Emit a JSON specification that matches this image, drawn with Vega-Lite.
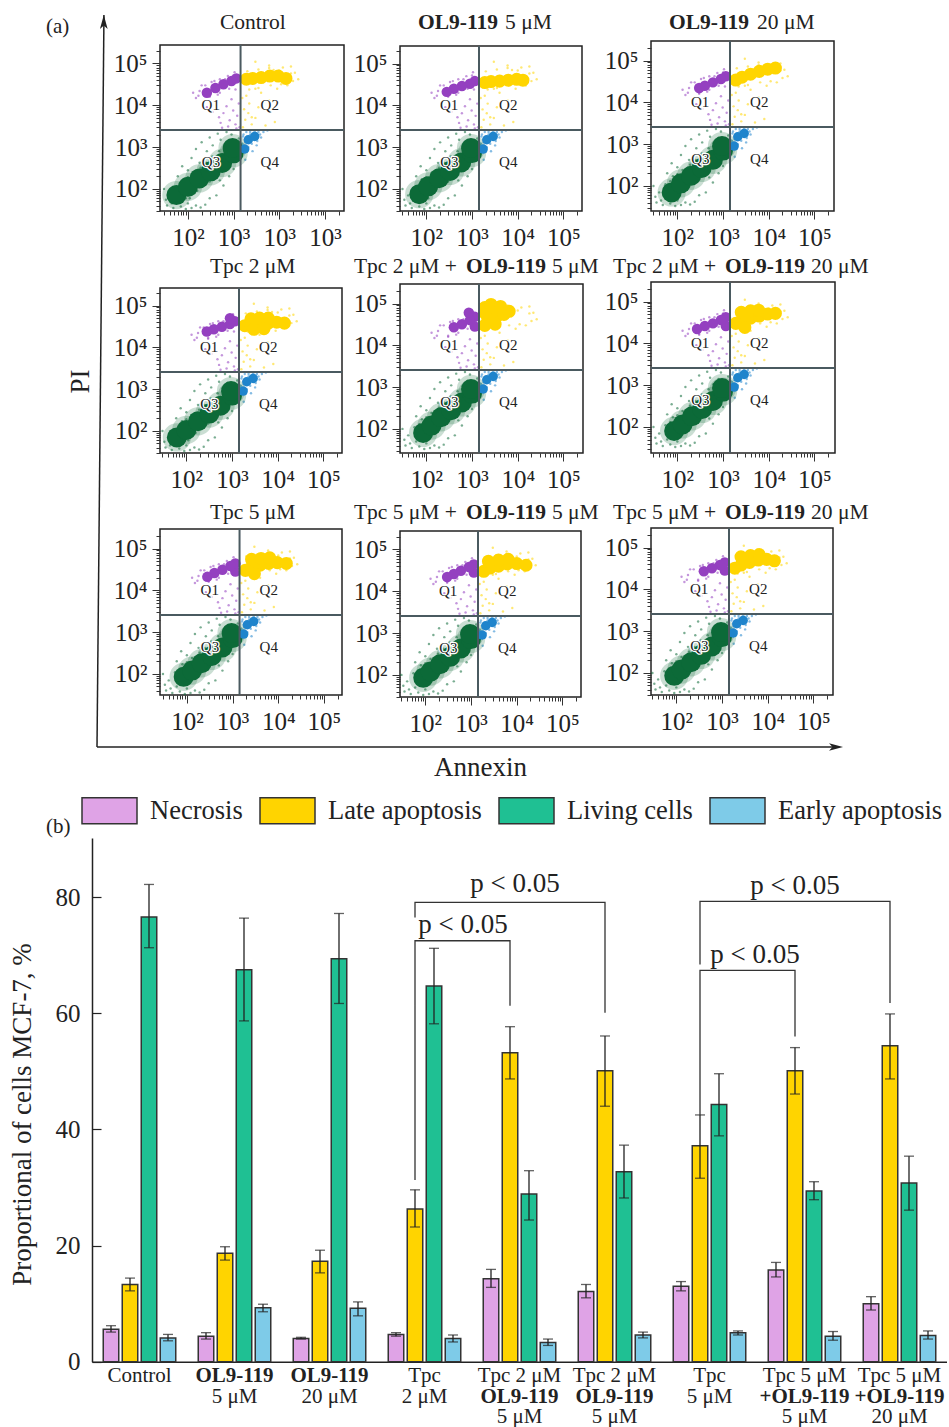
{"$schema":"https://vega.github.io/schema/vega-lite/v6.json","padding":{"left":8,"top":11,"right":0,"bottom":0},"bounds":"flush","spacing":0,"background":"#ffffff","resolve":{"scale":{"color":"independent","size":"independent"}},
"config":{"font":"Liberation Serif","view":{"stroke":null},"range":{"category":["#9440c0","#ffd500","#0c6a38","#1f84cc"]},"axis":{"grid":false,"domain":false,"labelFontSize":25,"labelColor":"#222","tickColor":"#333","labelOverlap":false,"titleFontWeight":"normal","titleColor":"#222"}},
"datasets":{
"sparse":[{"q":"Q1","x":150,"y":15000},{"q":"Q1","x":180,"y":22000},{"q":"Q1","x":220,"y":12000},{"q":"Q1","x":260,"y":9000},{"q":"Q1","x":300,"y":16000},{"q":"Q1","x":350,"y":7000},{"q":"Q1","x":420,"y":11000},{"q":"Q1","x":480,"y":5200},{"q":"Q1","x":520,"y":3800},{"q":"Q1","x":600,"y":6500},{"q":"Q1","x":700,"y":9500},{"q":"Q1","x":760,"y":3100},{"q":"Q1","x":820,"y":4400},{"q":"Q1","x":900,"y":14000},{"q":"Q1","x":980,"y":7500},{"q":"Q1","x":1100,"y":3500},{"q":"Q1","x":1200,"y":5600},{"q":"Q1","x":1300,"y":11000},{"q":"Q1","x":1350,"y":3000},{"q":"Q1","x":450,"y":18000},{"q":"Q1","x":650,"y":42000},{"q":"Q1","x":380,"y":38000},{"q":"Q1","x":1000,"y":52000},{"q":"Q1","x":240,"y":30000},{"q":"Q1","x":130,"y":20000},{"q":"Q1","x":1150,"y":2800},{"q":"Q1","x":560,"y":2900},{"q":"Q1","x":200,"y":30000},{"q":"Q1","x":330,"y":36000},{"q":"Q1","x":500,"y":42000},{"q":"Q1","x":750,"y":50000},{"q":"Q1","x":300,"y":17000},{"q":"Q1","x":500,"y":20000},{"q":"Q1","x":800,"y":25000},{"q":"Q1","x":1100,"y":24000},{"q":"Q1","x":170,"y":17000},{"q":"Q1","x":1050,"y":62000},
{"q":"Q2","x":1600,"y":3000},{"q":"Q2","x":1800,"y":4500},{"q":"Q2","x":2100,"y":6500},{"q":"Q2","x":2500,"y":3500},{"q":"Q2","x":3000,"y":5000},{"q":"Q2","x":1700,"y":8000},{"q":"Q2","x":2200,"y":11000},{"q":"Q2","x":3500,"y":9000},{"q":"Q2","x":1550,"y":15000},{"q":"Q2","x":4000,"y":20000},{"q":"Q2","x":6000,"y":13000},{"q":"Q2","x":9000,"y":25000},{"q":"Q2","x":15000,"y":30000},{"q":"Q2","x":22000,"y":60000},{"q":"Q2","x":18000,"y":85000},{"q":"Q2","x":6000,"y":90000},{"q":"Q2","x":3000,"y":110000},{"q":"Q2","x":12000,"y":80000},{"q":"Q2","x":2500,"y":5200},{"q":"Q2","x":5000,"y":3300},{"q":"Q2","x":8000,"y":4000},{"q":"Q2","x":1900,"y":17000},{"q":"Q2","x":3000,"y":25000},{"q":"Q2","x":7500,"y":70000},{"q":"Q2","x":26000,"y":42000},{"q":"Q2","x":2000,"y":65000},{"q":"Q2","x":3500,"y":72000},{"q":"Q2","x":6000,"y":78000},{"q":"Q2","x":10000,"y":68000},{"q":"Q2","x":18000,"y":58000},{"q":"Q2","x":20000,"y":38000},{"q":"Q2","x":11000,"y":32000},{"q":"Q2","x":6500,"y":30000},{"q":"Q2","x":3500,"y":26000},{"q":"Q2","x":2200,"y":24000},
{"q":"Q3","x":35,"y":40},{"q":"Q3","x":40,"y":70},{"q":"Q3","x":48,"y":35},{"q":"Q3","x":55,"y":110},{"q":"Q3","x":60,"y":50},{"q":"Q3","x":70,"y":38},{"q":"Q3","x":80,"y":170},{"q":"Q3","x":90,"y":33},{"q":"Q3","x":100,"y":45},{"q":"Q3","x":120,"y":35},{"q":"Q3","x":150,"y":40},{"q":"Q3","x":190,"y":36},{"q":"Q3","x":240,"y":42},{"q":"Q3","x":300,"y":60},{"q":"Q3","x":420,"y":70},{"q":"Q3","x":600,"y":120},{"q":"Q3","x":60,"y":200},{"q":"Q3","x":75,"y":350},{"q":"Q3","x":100,"y":280},{"q":"Q3","x":120,"y":550},{"q":"Q3","x":150,"y":900},{"q":"Q3","x":180,"y":420},{"q":"Q3","x":200,"y":1300},{"q":"Q3","x":260,"y":800},{"q":"Q3","x":300,"y":1700},{"q":"Q3","x":350,"y":1100},{"q":"Q3","x":450,"y":2100},{"q":"Q3","x":520,"y":1500},{"q":"Q3","x":700,"y":2300},{"q":"Q3","x":900,"y":2000},{"q":"Q3","x":800,"y":200},{"q":"Q3","x":1000,"y":300},{"q":"Q3","x":1200,"y":600},{"q":"Q3","x":500,"y":160},{"q":"Q3","x":1300,"y":1600},{"q":"Q3","x":30,"y":100},{"q":"Q3","x":33,"y":55},{"q":"Q3","x":44,"y":45},{"q":"Q3","x":160,"y":90},{"q":"Q3","x":110,"y":60},{"q":"Q3","x":70,"y":130},{"q":"Q3","x":100,"y":190},{"q":"Q3","x":130,"y":240},{"q":"Q3","x":190,"y":320},{"q":"Q3","x":250,"y":420},{"q":"Q3","x":340,"y":600},{"q":"Q3","x":480,"y":800},{"q":"Q3","x":620,"y":1050},{"q":"Q3","x":800,"y":1400},{"q":"Q3","x":1000,"y":1300},{"q":"Q3","x":90,"y":60},{"q":"Q3","x":140,"y":80},{"q":"Q3","x":220,"y":120},{"q":"Q3","x":300,"y":150},{"q":"Q3","x":420,"y":220},{"q":"Q3","x":600,"y":280},{"q":"Q3","x":800,"y":380},{"q":"Q3","x":1050,"y":500},
{"q":"Q4","x":1500,"y":700},{"q":"Q4","x":1600,"y":1800},{"q":"Q4","x":1800,"y":500},{"q":"Q4","x":1900,"y":2300},{"q":"Q4","x":2100,"y":1000},{"q":"Q4","x":2300,"y":2000},{"q":"Q4","x":2600,"y":800},{"q":"Q4","x":2900,"y":2400},{"q":"Q4","x":3300,"y":1400},{"q":"Q4","x":3800,"y":2000},{"q":"Q4","x":4500,"y":2300},{"q":"Q4","x":5500,"y":2500},{"q":"Q4","x":2000,"y":1500},{"q":"Q4","x":1550,"y":1200},{"q":"Q4","x":2800,"y":1600},{"q":"Q4","x":1650,"y":2000},{"q":"Q4","x":2000,"y":800},{"q":"Q4","x":2500,"y":1200},{"q":"Q4","x":3200,"y":1100},{"q":"Q4","x":3500,"y":2300},{"q":"Q4","x":4000,"y":1700},{"q":"Q4","x":2300,"y":2300},{"q":"Q4","x":1800,"y":1300}],
"core":[
{"p":1,"q":"Q1","x":1150,"y":44000},{"p":1,"q":"Q1","x":900,"y":38000},{"p":1,"q":"Q1","x":600,"y":32000},{"p":1,"q":"Q1","x":400,"y":26000},{"p":1,"q":"Q1","x":260,"y":20000},
{"p":1,"q":"Q2","x":1900,"y":42000},{"p":1,"q":"Q2","x":2600,"y":44000},{"p":1,"q":"Q2","x":4000,"y":46000},{"p":1,"q":"Q2","x":6200,"y":50000},{"p":1,"q":"Q2","x":9500,"y":50000},{"p":1,"q":"Q2","x":14000,"y":44000},
{"p":1,"q":"Q3","x":56,"y":71},{"p":1,"q":"Q3","x":100,"y":112},{"p":1,"q":"Q3","x":178,"y":178},{"p":1,"q":"Q3","x":316,"y":263},{"p":1,"q":"Q3","x":562,"y":417},{"p":1,"q":"Q3","x":1000,"y":708},{"p":1,"q":"Q3","x":950,"y":950},
{"p":1,"q":"Q4","x":1750,"y":900},{"p":1,"q":"Q4","x":2100,"y":1500},{"p":1,"q":"Q4","x":2900,"y":1800},
{"p":2,"q":"Q1","x":1150,"y":38000},{"p":2,"q":"Q1","x":900,"y":33000},{"p":2,"q":"Q1","x":600,"y":29000},{"p":2,"q":"Q1","x":400,"y":25000},{"p":2,"q":"Q1","x":280,"y":21000},
{"p":2,"q":"Q2","x":1900,"y":35000},{"p":2,"q":"Q2","x":2600,"y":37000},{"p":2,"q":"Q2","x":4000,"y":38000},{"p":2,"q":"Q2","x":6200,"y":40000},{"p":2,"q":"Q2","x":9500,"y":42000},{"p":2,"q":"Q2","x":13000,"y":40000},
{"p":2,"q":"Q3","x":70,"y":75},{"p":2,"q":"Q3","x":110,"y":115},{"p":2,"q":"Q3","x":190,"y":180},{"p":2,"q":"Q3","x":330,"y":270},{"p":2,"q":"Q3","x":580,"y":430},{"p":2,"q":"Q3","x":1000,"y":720},{"p":2,"q":"Q3","x":950,"y":950},
{"p":2,"q":"Q4","x":1750,"y":900},{"p":2,"q":"Q4","x":2100,"y":1500},{"p":2,"q":"Q4","x":2900,"y":1800},
{"p":3,"q":"Q1","x":1150,"y":42000},{"p":3,"q":"Q1","x":900,"y":36000},{"p":3,"q":"Q1","x":600,"y":30000},{"p":3,"q":"Q1","x":400,"y":25000},{"p":3,"q":"Q1","x":300,"y":22000},
{"p":3,"q":"Q2","x":1900,"y":34000},{"p":3,"q":"Q2","x":2600,"y":40000},{"p":3,"q":"Q2","x":4000,"y":47000},{"p":3,"q":"Q2","x":6200,"y":55000},{"p":3,"q":"Q2","x":9500,"y":62000},{"p":3,"q":"Q2","x":14000,"y":66000},
{"p":3,"q":"Q3","x":75,"y":70},{"p":3,"q":"Q3","x":120,"y":115},{"p":3,"q":"Q3","x":200,"y":175},{"p":3,"q":"Q3","x":340,"y":270},{"p":3,"q":"Q3","x":600,"y":420},{"p":3,"q":"Q3","x":1000,"y":700},{"p":3,"q":"Q3","x":950,"y":900},
{"p":3,"q":"Q4","x":1750,"y":900},{"p":3,"q":"Q4","x":2100,"y":1500},{"p":3,"q":"Q4","x":2900,"y":1800},
{"p":4,"q":"Q1","x":1150,"y":42000},{"p":4,"q":"Q1","x":900,"y":36000},{"p":4,"q":"Q1","x":600,"y":31000},{"p":4,"q":"Q1","x":400,"y":27000},{"p":4,"q":"Q1","x":280,"y":24000},{"p":4,"q":"Q1","x":900,"y":50000},
{"p":4,"q":"Q2","x":1900,"y":33000},{"p":4,"q":"Q2","x":2600,"y":36000},{"p":4,"q":"Q2","x":4000,"y":37000},{"p":4,"q":"Q2","x":6200,"y":38000},{"p":4,"q":"Q2","x":9500,"y":40000},{"p":4,"q":"Q2","x":14000,"y":38000},{"p":4,"q":"Q2","x":2600,"y":48000},{"p":4,"q":"Q2","x":4000,"y":50000},{"p":4,"q":"Q2","x":6200,"y":50000},{"p":4,"q":"Q2","x":3000,"y":27000},{"p":4,"q":"Q2","x":5000,"y":28000},
{"p":4,"q":"Q3","x":62,"y":70},{"p":4,"q":"Q3","x":100,"y":105},{"p":4,"q":"Q3","x":180,"y":170},{"p":4,"q":"Q3","x":320,"y":260},{"p":4,"q":"Q3","x":560,"y":400},{"p":4,"q":"Q3","x":1000,"y":700},{"p":4,"q":"Q3","x":950,"y":900},
{"p":4,"q":"Q4","x":1750,"y":900},{"p":4,"q":"Q4","x":2100,"y":1500},{"p":4,"q":"Q4","x":2900,"y":1800},
{"p":5,"q":"Q1","x":1150,"y":48000},{"p":5,"q":"Q1","x":1150,"y":28000},{"p":5,"q":"Q1","x":900,"y":40000},{"p":5,"q":"Q1","x":600,"y":32000},{"p":5,"q":"Q1","x":400,"y":27000},{"p":5,"q":"Q1","x":850,"y":60000},
{"p":5,"q":"Q2","x":1900,"y":30000},{"p":5,"q":"Q2","x":2200,"y":45000},{"p":5,"q":"Q2","x":2800,"y":70000},{"p":5,"q":"Q2","x":1900,"y":60000},{"p":5,"q":"Q2","x":3500,"y":50000},{"p":5,"q":"Q2","x":5000,"y":55000},{"p":5,"q":"Q2","x":6500,"y":65000},{"p":5,"q":"Q2","x":3200,"y":32000},{"p":5,"q":"Q2","x":1900,"y":80000},{"p":5,"q":"Q2","x":2600,"y":95000},{"p":5,"q":"Q2","x":4200,"y":85000},
{"p":5,"q":"Q3","x":85,"y":80},{"p":5,"q":"Q3","x":130,"y":120},{"p":5,"q":"Q3","x":210,"y":190},{"p":5,"q":"Q3","x":350,"y":280},{"p":5,"q":"Q3","x":600,"y":430},{"p":5,"q":"Q3","x":1000,"y":700},{"p":5,"q":"Q3","x":950,"y":900},
{"p":5,"q":"Q4","x":1750,"y":900},{"p":5,"q":"Q4","x":2100,"y":1500},{"p":5,"q":"Q4","x":2900,"y":1800},
{"p":6,"q":"Q1","x":1150,"y":42000},{"p":6,"q":"Q1","x":1150,"y":26000},{"p":6,"q":"Q1","x":900,"y":36000},{"p":6,"q":"Q1","x":600,"y":30000},{"p":6,"q":"Q1","x":400,"y":26000},{"p":6,"q":"Q1","x":270,"y":22000},
{"p":6,"q":"Q2","x":1900,"y":30000},{"p":6,"q":"Q2","x":2600,"y":36000},{"p":6,"q":"Q2","x":4000,"y":40000},{"p":6,"q":"Q2","x":6200,"y":45000},{"p":6,"q":"Q2","x":9500,"y":50000},{"p":6,"q":"Q2","x":14000,"y":52000},{"p":6,"q":"Q2","x":2500,"y":55000},{"p":6,"q":"Q2","x":4000,"y":60000},{"p":6,"q":"Q2","x":6000,"y":62000},{"p":6,"q":"Q2","x":3000,"y":24000},
{"p":6,"q":"Q3","x":85,"y":80},{"p":6,"q":"Q3","x":130,"y":115},{"p":6,"q":"Q3","x":210,"y":180},{"p":6,"q":"Q3","x":350,"y":270},{"p":6,"q":"Q3","x":600,"y":420},{"p":6,"q":"Q3","x":1000,"y":700},{"p":6,"q":"Q3","x":950,"y":850},
{"p":6,"q":"Q4","x":1750,"y":900},{"p":6,"q":"Q4","x":2100,"y":1500},{"p":6,"q":"Q4","x":2900,"y":1800},
{"p":7,"q":"Q1","x":1150,"y":44000},{"p":7,"q":"Q1","x":1150,"y":28000},{"p":7,"q":"Q1","x":900,"y":38000},{"p":7,"q":"Q1","x":600,"y":31000},{"p":7,"q":"Q1","x":400,"y":26000},{"p":7,"q":"Q1","x":280,"y":21000},
{"p":7,"q":"Q2","x":1900,"y":30000},{"p":7,"q":"Q2","x":2600,"y":36000},{"p":7,"q":"Q2","x":4000,"y":40000},{"p":7,"q":"Q2","x":6200,"y":44000},{"p":7,"q":"Q2","x":9500,"y":46000},{"p":7,"q":"Q2","x":15000,"y":44000},{"p":7,"q":"Q2","x":2600,"y":55000},{"p":7,"q":"Q2","x":4200,"y":58000},{"p":7,"q":"Q2","x":6500,"y":60000},{"p":7,"q":"Q2","x":3000,"y":25000},
{"p":7,"q":"Q3","x":85,"y":85},{"p":7,"q":"Q3","x":130,"y":120},{"p":7,"q":"Q3","x":210,"y":180},{"p":7,"q":"Q3","x":350,"y":270},{"p":7,"q":"Q3","x":600,"y":430},{"p":7,"q":"Q3","x":1000,"y":720},{"p":7,"q":"Q3","x":950,"y":950},
{"p":7,"q":"Q4","x":1750,"y":900},{"p":7,"q":"Q4","x":2100,"y":1500},{"p":7,"q":"Q4","x":2900,"y":1800},
{"p":8,"q":"Q1","x":1150,"y":44000},{"p":8,"q":"Q1","x":1150,"y":28000},{"p":8,"q":"Q1","x":900,"y":38000},{"p":8,"q":"Q1","x":600,"y":31000},{"p":8,"q":"Q1","x":420,"y":26000},{"p":8,"q":"Q1","x":300,"y":22000},
{"p":8,"q":"Q2","x":1900,"y":30000},{"p":8,"q":"Q2","x":2600,"y":36000},{"p":8,"q":"Q2","x":4000,"y":40000},{"p":8,"q":"Q2","x":6200,"y":45000},{"p":8,"q":"Q2","x":10000,"y":46000},{"p":8,"q":"Q2","x":16000,"y":42000},{"p":8,"q":"Q2","x":2400,"y":52000},{"p":8,"q":"Q2","x":4000,"y":56000},{"p":8,"q":"Q2","x":6500,"y":58000},
{"p":8,"q":"Q3","x":90,"y":85},{"p":8,"q":"Q3","x":130,"y":120},{"p":8,"q":"Q3","x":210,"y":180},{"p":8,"q":"Q3","x":350,"y":270},{"p":8,"q":"Q3","x":600,"y":430},{"p":8,"q":"Q3","x":1000,"y":720},{"p":8,"q":"Q3","x":950,"y":950},
{"p":8,"q":"Q4","x":1750,"y":900},{"p":8,"q":"Q4","x":2100,"y":1500},{"p":8,"q":"Q4","x":2900,"y":1800},
{"p":9,"q":"Q1","x":1150,"y":44000},{"p":9,"q":"Q1","x":1150,"y":28000},{"p":9,"q":"Q1","x":900,"y":38000},{"p":9,"q":"Q1","x":600,"y":32000},{"p":9,"q":"Q1","x":400,"y":27000},
{"p":9,"q":"Q2","x":1900,"y":32000},{"p":9,"q":"Q2","x":2600,"y":38000},{"p":9,"q":"Q2","x":4000,"y":44000},{"p":9,"q":"Q2","x":6200,"y":50000},{"p":9,"q":"Q2","x":9500,"y":52000},{"p":9,"q":"Q2","x":14000,"y":48000},{"p":9,"q":"Q2","x":2600,"y":60000},{"p":9,"q":"Q2","x":4200,"y":64000},{"p":9,"q":"Q2","x":6500,"y":68000},
{"p":9,"q":"Q3","x":90,"y":85},{"p":9,"q":"Q3","x":130,"y":120},{"p":9,"q":"Q3","x":210,"y":180},{"p":9,"q":"Q3","x":350,"y":270},{"p":9,"q":"Q3","x":600,"y":430},{"p":9,"q":"Q3","x":1000,"y":720},{"p":9,"q":"Q3","x":950,"y":950},
{"p":9,"q":"Q4","x":1750,"y":900},{"p":9,"q":"Q4","x":2100,"y":1500},{"p":9,"q":"Q4","x":2900,"y":1800}],
"qlab":[{"q":"Q1","x":316,"y":10000},{"q":"Q2","x":6200,"y":10000},{"q":"Q3","x":320,"y":447},{"q":"Q4","x":6200,"y":447}],
"gx":[{"x":1420}],"gy":[{"y":2570}],
"titles":[
{"p":1,"t":"Control","x":0.25,"y":0.733,"bold":false},
{"p":2,"t":"OL9-119","x":0.075,"y":0.742,"bold":true},{"p":2,"t":"5 μM","x":0.4375,"y":0.742,"bold":false},
{"p":3,"t":"OL9-119","x":0.075,"y":0.692,"bold":true},{"p":3,"t":"20 μM","x":0.442,"y":0.692,"bold":false},
{"p":4,"t":"Tpc 2 μM","x":0.208,"y":0.273,"bold":false},
{"p":5,"t":"Tpc 2 μM +","x":-0.192,"y":0.233,"bold":false},{"p":5,"t":"OL9-119","x":0.275,"y":0.233,"bold":true},{"p":5,"t":"5 μM","x":0.633,"y":0.233,"bold":false},
{"p":6,"t":"Tpc 2 μM +","x":-0.158,"y":0.211,"bold":false},{"p":6,"t":"OL9-119","x":0.308,"y":0.211,"bold":true},{"p":6,"t":"20 μM","x":0.667,"y":0.211,"bold":false},
{"p":7,"t":"Tpc 5 μM","x":0.208,"y":0.21,"bold":false},
{"p":8,"t":"Tpc 5 μM +","x":-0.192,"y":0.23,"bold":false},{"p":8,"t":"OL9-119","x":0.275,"y":0.23,"bold":true},{"p":8,"t":"5 μM","x":0.633,"y":0.23,"bold":false},
{"p":9,"t":"Tpc 5 μM +","x":-0.158,"y":0.2,"bold":false},{"p":9,"t":"OL9-119","x":0.308,"y":0.2,"bold":true},{"p":9,"t":"20 μM","x":0.667,"y":0.2,"bold":false}],
"bars":[
{"g":"Control","s":"Necrosis","v":5.6,"lo":5.1,"hi":6.2},{"g":"Control","s":"Late apoptosis","v":13.3,"lo":12.2,"hi":14.4},{"g":"Control","s":"Living cells","v":76.6,"lo":71.3,"hi":82.2},{"g":"Control","s":"Early apoptosis","v":4.1,"lo":3.6,"hi":4.7},
{"g":"OL5","s":"Necrosis","v":4.4,"lo":3.9,"hi":5.0},{"g":"OL5","s":"Late apoptosis","v":18.7,"lo":17.5,"hi":19.8},{"g":"OL5","s":"Living cells","v":67.5,"lo":58.7,"hi":76.4},{"g":"OL5","s":"Early apoptosis","v":9.3,"lo":8.6,"hi":9.9},
{"g":"OL20","s":"Necrosis","v":4.0,"lo":3.9,"hi":4.2},{"g":"OL20","s":"Late apoptosis","v":17.3,"lo":15.3,"hi":19.2},{"g":"OL20","s":"Living cells","v":69.4,"lo":61.7,"hi":77.2},{"g":"OL20","s":"Early apoptosis","v":9.2,"lo":7.9,"hi":10.3},
{"g":"Tpc2","s":"Necrosis","v":4.7,"lo":4.4,"hi":5.0},{"g":"Tpc2","s":"Late apoptosis","v":26.3,"lo":23.2,"hi":29.6},{"g":"Tpc2","s":"Living cells","v":64.7,"lo":58.2,"hi":71.2},{"g":"Tpc2","s":"Early apoptosis","v":4.0,"lo":3.4,"hi":4.6},
{"g":"Tpc2 OL a","s":"Necrosis","v":14.3,"lo":12.8,"hi":15.9},{"g":"Tpc2 OL a","s":"Late apoptosis","v":53.2,"lo":48.7,"hi":57.7},{"g":"Tpc2 OL a","s":"Living cells","v":28.9,"lo":24.4,"hi":32.9},{"g":"Tpc2 OL a","s":"Early apoptosis","v":3.3,"lo":2.8,"hi":3.9},
{"g":"Tpc2 OL b","s":"Necrosis","v":12.1,"lo":11.0,"hi":13.3},{"g":"Tpc2 OL b","s":"Late apoptosis","v":50.1,"lo":44.0,"hi":56.1},{"g":"Tpc2 OL b","s":"Living cells","v":32.7,"lo":28.2,"hi":37.3},{"g":"Tpc2 OL b","s":"Early apoptosis","v":4.6,"lo":4.1,"hi":5.1},
{"g":"Tpc5","s":"Necrosis","v":13.0,"lo":12.2,"hi":13.8},{"g":"Tpc5","s":"Late apoptosis","v":37.2,"lo":31.6,"hi":42.5},{"g":"Tpc5","s":"Living cells","v":44.3,"lo":38.9,"hi":49.6},{"g":"Tpc5","s":"Early apoptosis","v":5.0,"lo":4.6,"hi":5.3},
{"g":"Tpc5 OL5","s":"Necrosis","v":15.8,"lo":14.6,"hi":17.1},{"g":"Tpc5 OL5","s":"Late apoptosis","v":50.1,"lo":46.1,"hi":54.1},{"g":"Tpc5 OL5","s":"Living cells","v":29.4,"lo":27.9,"hi":31.0},{"g":"Tpc5 OL5","s":"Early apoptosis","v":4.4,"lo":3.7,"hi":5.2},
{"g":"Tpc5 OL20","s":"Necrosis","v":10.0,"lo":8.9,"hi":11.2},{"g":"Tpc5 OL20","s":"Late apoptosis","v":54.4,"lo":48.7,"hi":59.9},{"g":"Tpc5 OL20","s":"Living cells","v":30.8,"lo":26.1,"hi":35.4},{"g":"Tpc5 OL20","s":"Early apoptosis","v":4.5,"lo":3.9,"hi":5.3}],
"brk":[
{"b":"o1","o":1,"g":"Tpc2","s":"Late apoptosis","y":76.5},{"b":"o1","o":2,"g":"Tpc2","s":"Late apoptosis","y":79.1},{"b":"o1","o":3,"g":"Tpc2 OL b","s":"Late apoptosis","y":79.1},{"b":"o1","o":4,"g":"Tpc2 OL b","s":"Late apoptosis","y":60.1},
{"b":"i1","o":1,"g":"Tpc2","s":"Late apoptosis","y":31.3},{"b":"i1","o":2,"g":"Tpc2","s":"Late apoptosis","y":72.5},{"b":"i1","o":3,"g":"Tpc2 OL a","s":"Late apoptosis","y":72.5},{"b":"i1","o":4,"g":"Tpc2 OL a","s":"Late apoptosis","y":61.3},
{"b":"o2","o":1,"g":"Tpc5","s":"Late apoptosis","y":68.4},{"b":"o2","o":2,"g":"Tpc5","s":"Late apoptosis","y":79.3},{"b":"o2","o":3,"g":"Tpc5 OL20","s":"Late apoptosis","y":79.3},{"b":"o2","o":4,"g":"Tpc5 OL20","s":"Late apoptosis","y":61.8},
{"b":"i2","o":1,"g":"Tpc5","s":"Late apoptosis","y":42.5},{"b":"i2","o":2,"g":"Tpc5","s":"Late apoptosis","y":67.4},{"b":"i2","o":3,"g":"Tpc5 OL5","s":"Late apoptosis","y":67.4},{"b":"i2","o":4,"g":"Tpc5 OL5","s":"Late apoptosis","y":56}],
"glabels":[
{"g":"Control","t":"Control","y":-2.5,"bold":false},
{"g":"OL5","t":"OL9-119","y":-2.5,"bold":true},{"g":"OL5","t":"5 μM","y":-6.1,"bold":false},
{"g":"OL20","t":"OL9-119","y":-2.5,"bold":true},{"g":"OL20","t":"20 μM","y":-6.1,"bold":false},
{"g":"Tpc2","t":"Tpc","y":-2.5,"bold":false},{"g":"Tpc2","t":"2 μM","y":-6.1,"bold":false},
{"g":"Tpc2 OL a","t":"Tpc 2 μM","y":-2.5,"bold":false},{"g":"Tpc2 OL a","t":"OL9-119","y":-6.1,"bold":true},{"g":"Tpc2 OL a","t":"5 μM","y":-9.6,"bold":false},
{"g":"Tpc2 OL b","t":"Tpc 2 μM","y":-2.5,"bold":false},{"g":"Tpc2 OL b","t":"OL9-119","y":-6.1,"bold":true},{"g":"Tpc2 OL b","t":"5 μM","y":-9.6,"bold":false},
{"g":"Tpc5","t":"Tpc","y":-2.5,"bold":false},{"g":"Tpc5","t":"5 μM","y":-6.1,"bold":false},
{"g":"Tpc5 OL5","t":"Tpc 5 μM","y":-2.5,"bold":false},{"g":"Tpc5 OL5","t":"+OL9-119","y":-6.1,"bold":true},{"g":"Tpc5 OL5","t":"5 μM","y":-9.6,"bold":false},
{"g":"Tpc5 OL20","t":"Tpc 5 μM","y":-2.5,"bold":false},{"g":"Tpc5 OL20","t":"+OL9-119","y":-6.1,"bold":true},{"g":"Tpc5 OL20","t":"20 μM","y":-9.6,"bold":false}]
},
"vconcat":[
{"bounds":"flush","spacing":0,"resolve":{"scale":{"color":"independent","size":"independent"}},"hconcat":[
 {"width":68,"height":732,"title":{"text":"(a)","anchor":"start","frame":"group","fontSize":21,"fontWeight":"normal","color":"#222","dx":-46,"dy":29},
  "layer":[
   {"data":{"values":[{"x":0.0735,"y":0},{"x":0.176,"y":1}]},"mark":{"type":"line","color":"#222","strokeWidth":1.5},"encoding":{"x":{"field":"x","type":"quantitative","scale":{"domain":[0,1]},"axis":null},"y":{"field":"y","type":"quantitative","scale":{"domain":[0,1]},"axis":{"title":"PI","titleFontSize":27,"labels":false,"ticks":false,"titlePadding":-2}}}},
   {"data":{"values":[{"x":0.1735,"y":0.9904}]},"mark":{"type":"point","filled":true,"opacity":1,"color":"#222","size":196,"shape":"M0,-1L0.55,1L0,0.5L-0.55,1Z"},"encoding":{"x":{"field":"x","type":"quantitative"},"y":{"field":"y","type":"quantitative"}}}
  ]},
 {"bounds":"flush","spacing":0,"resolve":{"scale":{"color":"independent","size":"independent"}},"vconcat":[
  {"width":240,"height":30,"data":{"name":"titles"},"transform":[{"filter":"datum.p==1"}],"encoding":{"x":{"field":"x","type":"quantitative","scale":{"domain":[0,1]},"axis":null},"y":{"field":"y","type":"quantitative","scale":{"domain":[0,1]},"axis":null},"text":{"field":"t"}},"layer":[{"transform":[{"filter":"!datum.bold"}],"mark":{"type":"text","align":"left","fontSize":21.5,"color":"#222"}},{"transform":[{"filter":"datum.bold"}],"mark":{"type":"text","align":"left","fontSize":21.5,"color":"#222","fontWeight":"bold"}}]},
  {"width":184,"height":166,"view":{"stroke":"#222","strokeWidth":1.5},"layer":[{"encoding":{"x":{"field":"x","type":"quantitative","scale":{"type":"log","nice":false,"domain":[24.5,261000]},"axis":{"title":null,"tickCount":40,"labelPadding":6,"tickSize":{"condition":{"test":"indexof([100,1000,10000,100000],datum.value)>=0","value":8},"value":4},"labelExpr":"{100:'10²',1000:'10³',10000:'10³',100000:'10³'}[datum.value]||''"}},"y":{"field":"y","type":"quantitative","scale":{"type":"log","nice":false,"domain":[29.6,277000]},"axis":{"title":null,"tickCount":40,"labelPadding":5,"tickSize":{"condition":{"test":"indexof([100,1000,10000,100000],datum.value)>=0","value":8},"value":4},"labelExpr":"{100:'10²',1000:'10³',10000:'10⁴',100000:'10⁵'}[datum.value]||''"}},"color":{"field":"q","type":"nominal","legend":null}},"layer":[{"data":{"name":"sparse"},"mark":{"type":"circle","size":6,"opacity":0.55}},{"data":{"name":"core"},"transform":[{"filter":"datum.p==1&&datum.q=='Q3'"}],"mark":{"type":"circle","size":800,"opacity":0.22}},{"data":{"name":"core"},"transform":[{"filter":"datum.p==1"}],"mark":{"type":"circle","opacity":1},"encoding":{"size":{"field":"q","type":"nominal","legend":null,"scale":{"type":"ordinal","range":[110,170,400,90]}}}},{"data":{"name":"qlab"},"mark":{"type":"text","stroke":"#fff","strokeWidth":2.5,"fontSize":15},"encoding":{"text":{"field":"q"},"color":{"value":"#fff"}}},{"data":{"name":"qlab"},"mark":{"type":"text","fontSize":15},"encoding":{"text":{"field":"q"},"color":{"value":"#222"}}},{"data":{"name":"gx"},"mark":{"type":"rule","color":"#4a5a60","strokeWidth":2},"encoding":{"y":null,"color":null}},{"data":{"name":"gy"},"mark":{"type":"rule","color":"#4a5a60","strokeWidth":2},"encoding":{"x":null,"color":null}}]}]},
  {"width":240,"height":77,"data":{"name":"titles"},"transform":[{"filter":"datum.p==4"}],"encoding":{"x":{"field":"x","type":"quantitative","scale":{"domain":[0,1]},"axis":null},"y":{"field":"y","type":"quantitative","scale":{"domain":[0,1]},"axis":null},"text":{"field":"t"}},"layer":[{"transform":[{"filter":"!datum.bold"}],"mark":{"type":"text","align":"left","fontSize":21.5,"color":"#222"}}]},
  {"width":182,"height":165,"view":{"stroke":"#222","strokeWidth":1.5},"layer":[{"encoding":{"x":{"field":"x","type":"quantitative","scale":{"type":"log","nice":false,"domain":[26.5,255000]},"axis":{"title":null,"tickCount":40,"labelPadding":6,"tickSize":{"condition":{"test":"indexof([100,1000,10000,100000],datum.value)>=0","value":8},"value":4},"labelExpr":"{100:'10²',1000:'10³',10000:'10⁴',100000:'10⁵'}[datum.value]||''"}},"y":{"field":"y","type":"quantitative","scale":{"type":"log","nice":false,"domain":[29.6,263000]},"axis":{"title":null,"tickCount":40,"labelPadding":5,"tickSize":{"condition":{"test":"indexof([100,1000,10000,100000],datum.value)>=0","value":8},"value":4},"labelExpr":"{100:'10²',1000:'10³',10000:'10⁴',100000:'10⁵'}[datum.value]||''"}},"color":{"field":"q","type":"nominal","legend":null}},"layer":[{"data":{"name":"sparse"},"mark":{"type":"circle","size":6,"opacity":0.55}},{"data":{"name":"core"},"transform":[{"filter":"datum.p==4&&datum.q=='Q3'"}],"mark":{"type":"circle","size":800,"opacity":0.22}},{"data":{"name":"core"},"transform":[{"filter":"datum.p==4"}],"mark":{"type":"circle","opacity":1},"encoding":{"size":{"field":"q","type":"nominal","legend":null,"scale":{"type":"ordinal","range":[110,170,400,90]}}}},{"data":{"name":"qlab"},"mark":{"type":"text","stroke":"#fff","strokeWidth":2.5,"fontSize":15},"encoding":{"text":{"field":"q"},"color":{"value":"#fff"}}},{"data":{"name":"qlab"},"mark":{"type":"text","fontSize":15},"encoding":{"text":{"field":"q"},"color":{"value":"#222"}}},{"data":{"name":"gx"},"mark":{"type":"rule","color":"#4a5a60","strokeWidth":2},"encoding":{"y":null,"color":null}},{"data":{"name":"gy"},"mark":{"type":"rule","color":"#4a5a60","strokeWidth":2},"encoding":{"x":null,"color":null}}]}]},
  {"width":240,"height":76,"data":{"name":"titles"},"transform":[{"filter":"datum.p==7"}],"encoding":{"x":{"field":"x","type":"quantitative","scale":{"domain":[0,1]},"axis":null},"y":{"field":"y","type":"quantitative","scale":{"domain":[0,1]},"axis":null},"text":{"field":"t"}},"layer":[{"transform":[{"filter":"!datum.bold"}],"mark":{"type":"text","align":"left","fontSize":21.5,"color":"#222"}}]},
  {"width":182,"height":166,"view":{"stroke":"#222","strokeWidth":1.5},"layer":[{"encoding":{"x":{"field":"x","type":"quantitative","scale":{"type":"log","nice":false,"domain":[25.8,248000]},"axis":{"title":null,"tickCount":40,"labelPadding":6,"tickSize":{"condition":{"test":"indexof([100,1000,10000,100000],datum.value)>=0","value":8},"value":4},"labelExpr":"{100:'10²',1000:'10³',10000:'10⁴',100000:'10⁵'}[datum.value]||''"}},"y":{"field":"y","type":"quantitative","scale":{"type":"log","nice":false,"domain":[31.3,293000]},"axis":{"title":null,"tickCount":40,"labelPadding":5,"tickSize":{"condition":{"test":"indexof([100,1000,10000,100000],datum.value)>=0","value":8},"value":4},"labelExpr":"{100:'10²',1000:'10³',10000:'10⁴',100000:'10⁵'}[datum.value]||''"}},"color":{"field":"q","type":"nominal","legend":null}},"layer":[{"data":{"name":"sparse"},"mark":{"type":"circle","size":6,"opacity":0.55}},{"data":{"name":"core"},"transform":[{"filter":"datum.p==7&&datum.q=='Q3'"}],"mark":{"type":"circle","size":800,"opacity":0.22}},{"data":{"name":"core"},"transform":[{"filter":"datum.p==7"}],"mark":{"type":"circle","opacity":1},"encoding":{"size":{"field":"q","type":"nominal","legend":null,"scale":{"type":"ordinal","range":[110,170,400,90]}}}},{"data":{"name":"qlab"},"mark":{"type":"text","stroke":"#fff","strokeWidth":2.5,"fontSize":15},"encoding":{"text":{"field":"q"},"color":{"value":"#fff"}}},{"data":{"name":"qlab"},"mark":{"type":"text","fontSize":15},"encoding":{"text":{"field":"q"},"color":{"value":"#222"}}},{"data":{"name":"gx"},"mark":{"type":"rule","color":"#4a5a60","strokeWidth":2},"encoding":{"y":null,"color":null}},{"data":{"name":"gy"},"mark":{"type":"rule","color":"#4a5a60","strokeWidth":2},"encoding":{"x":null,"color":null}}]}]}
 ]},
 {"width":240,"height":1,"mark":{"type":"point","opacity":0},"data":{"values":[{}]},"encoding":{}},
 {"bounds":"flush","spacing":0,"resolve":{"scale":{"color":"independent","size":"independent"}},"vconcat":[
  {"width":240,"height":31,"data":{"name":"titles"},"transform":[{"filter":"datum.p==2"}],"encoding":{"x":{"field":"x","type":"quantitative","scale":{"domain":[0,1]},"axis":null},"y":{"field":"y","type":"quantitative","scale":{"domain":[0,1]},"axis":null},"text":{"field":"t"}},"layer":[{"transform":[{"filter":"!datum.bold"}],"mark":{"type":"text","align":"left","fontSize":21.5,"color":"#222"}},{"transform":[{"filter":"datum.bold"}],"mark":{"type":"text","align":"left","fontSize":21.5,"color":"#222","fontWeight":"bold"}}]},
  {"width":182,"height":165,"view":{"stroke":"#222","strokeWidth":1.5},"layer":[{"encoding":{"x":{"field":"x","type":"quantitative","scale":{"type":"log","nice":false,"domain":[26.5,255000]},"axis":{"title":null,"tickCount":40,"labelPadding":6,"tickSize":{"condition":{"test":"indexof([100,1000,10000,100000],datum.value)>=0","value":8},"value":4},"labelExpr":"{100:'10²',1000:'10³',10000:'10⁴',100000:'10⁵'}[datum.value]||''"}},"y":{"field":"y","type":"quantitative","scale":{"type":"log","nice":false,"domain":[29.6,263000]},"axis":{"title":null,"tickCount":40,"labelPadding":5,"tickSize":{"condition":{"test":"indexof([100,1000,10000,100000],datum.value)>=0","value":8},"value":4},"labelExpr":"{100:'10²',1000:'10³',10000:'10⁴',100000:'10⁵'}[datum.value]||''"}},"color":{"field":"q","type":"nominal","legend":null}},"layer":[{"data":{"name":"sparse"},"mark":{"type":"circle","size":6,"opacity":0.55}},{"data":{"name":"core"},"transform":[{"filter":"datum.p==2&&datum.q=='Q3'"}],"mark":{"type":"circle","size":800,"opacity":0.22}},{"data":{"name":"core"},"transform":[{"filter":"datum.p==2"}],"mark":{"type":"circle","opacity":1},"encoding":{"size":{"field":"q","type":"nominal","legend":null,"scale":{"type":"ordinal","range":[110,170,400,90]}}}},{"data":{"name":"qlab"},"mark":{"type":"text","stroke":"#fff","strokeWidth":2.5,"fontSize":15},"encoding":{"text":{"field":"q"},"color":{"value":"#fff"}}},{"data":{"name":"qlab"},"mark":{"type":"text","fontSize":15},"encoding":{"text":{"field":"q"},"color":{"value":"#222"}}},{"data":{"name":"gx"},"mark":{"type":"rule","color":"#4a5a60","strokeWidth":2},"encoding":{"y":null,"color":null}},{"data":{"name":"gy"},"mark":{"type":"rule","color":"#4a5a60","strokeWidth":2},"encoding":{"x":null,"color":null}}]}]},
  {"width":240,"height":73,"data":{"name":"titles"},"transform":[{"filter":"datum.p==5"}],"encoding":{"x":{"field":"x","type":"quantitative","scale":{"domain":[0,1]},"axis":null},"y":{"field":"y","type":"quantitative","scale":{"domain":[0,1]},"axis":null},"text":{"field":"t"}},"layer":[{"transform":[{"filter":"!datum.bold"}],"mark":{"type":"text","align":"left","fontSize":21.5,"color":"#222"}},{"transform":[{"filter":"datum.bold"}],"mark":{"type":"text","align":"left","fontSize":21.5,"color":"#222","fontWeight":"bold"}}]},
  {"width":183,"height":169,"view":{"stroke":"#222","strokeWidth":1.5},"layer":[{"encoding":{"x":{"field":"x","type":"quantitative","scale":{"type":"log","nice":false,"domain":[26.5,268000]},"axis":{"title":null,"tickCount":40,"labelPadding":6,"tickSize":{"condition":{"test":"indexof([100,1000,10000,100000],datum.value)>=0","value":8},"value":4},"labelExpr":"{100:'10²',1000:'10³',10000:'10⁴',100000:'10⁵'}[datum.value]||''"}},"y":{"field":"y","type":"quantitative","scale":{"type":"log","nice":false,"domain":[26.5,293000]},"axis":{"title":null,"tickCount":40,"labelPadding":5,"tickSize":{"condition":{"test":"indexof([100,1000,10000,100000],datum.value)>=0","value":8},"value":4},"labelExpr":"{100:'10²',1000:'10³',10000:'10⁴',100000:'10⁵'}[datum.value]||''"}},"color":{"field":"q","type":"nominal","legend":null}},"layer":[{"data":{"name":"sparse"},"mark":{"type":"circle","size":6,"opacity":0.55}},{"data":{"name":"core"},"transform":[{"filter":"datum.p==5&&datum.q=='Q3'"}],"mark":{"type":"circle","size":800,"opacity":0.22}},{"data":{"name":"core"},"transform":[{"filter":"datum.p==5"}],"mark":{"type":"circle","opacity":1},"encoding":{"size":{"field":"q","type":"nominal","legend":null,"scale":{"type":"ordinal","range":[110,170,400,90]}}}},{"data":{"name":"qlab"},"mark":{"type":"text","stroke":"#fff","strokeWidth":2.5,"fontSize":15},"encoding":{"text":{"field":"q"},"color":{"value":"#fff"}}},{"data":{"name":"qlab"},"mark":{"type":"text","fontSize":15},"encoding":{"text":{"field":"q"},"color":{"value":"#222"}}},{"data":{"name":"gx"},"mark":{"type":"rule","color":"#4a5a60","strokeWidth":2},"encoding":{"y":null,"color":null}},{"data":{"name":"gy"},"mark":{"type":"rule","color":"#4a5a60","strokeWidth":2},"encoding":{"x":null,"color":null}}]}]},
  {"width":240,"height":78,"data":{"name":"titles"},"transform":[{"filter":"datum.p==8"}],"encoding":{"x":{"field":"x","type":"quantitative","scale":{"domain":[0,1]},"axis":null},"y":{"field":"y","type":"quantitative","scale":{"domain":[0,1]},"axis":null},"text":{"field":"t"}},"layer":[{"transform":[{"filter":"!datum.bold"}],"mark":{"type":"text","align":"left","fontSize":21.5,"color":"#222"}},{"transform":[{"filter":"datum.bold"}],"mark":{"type":"text","align":"left","fontSize":21.5,"color":"#222","fontWeight":"bold"}}]},
  {"width":181,"height":166,"view":{"stroke":"#222","strokeWidth":1.5},"layer":[{"encoding":{"x":{"field":"x","type":"quantitative","scale":{"type":"log","nice":false,"domain":[27.9,255000]},"axis":{"title":null,"tickCount":40,"labelPadding":6,"tickSize":{"condition":{"test":"indexof([100,1000,10000,100000],datum.value)>=0","value":8},"value":4},"labelExpr":"{100:'10²',1000:'10³',10000:'10⁴',100000:'10⁵'}[datum.value]||''"}},"y":{"field":"y","type":"quantitative","scale":{"type":"log","nice":false,"domain":[29.6,277000]},"axis":{"title":null,"tickCount":40,"labelPadding":5,"tickSize":{"condition":{"test":"indexof([100,1000,10000,100000],datum.value)>=0","value":8},"value":4},"labelExpr":"{100:'10²',1000:'10³',10000:'10⁴',100000:'10⁵'}[datum.value]||''"}},"color":{"field":"q","type":"nominal","legend":null}},"layer":[{"data":{"name":"sparse"},"mark":{"type":"circle","size":6,"opacity":0.55}},{"data":{"name":"core"},"transform":[{"filter":"datum.p==8&&datum.q=='Q3'"}],"mark":{"type":"circle","size":800,"opacity":0.22}},{"data":{"name":"core"},"transform":[{"filter":"datum.p==8"}],"mark":{"type":"circle","opacity":1},"encoding":{"size":{"field":"q","type":"nominal","legend":null,"scale":{"type":"ordinal","range":[110,170,400,90]}}}},{"data":{"name":"qlab"},"mark":{"type":"text","stroke":"#fff","strokeWidth":2.5,"fontSize":15},"encoding":{"text":{"field":"q"},"color":{"value":"#fff"}}},{"data":{"name":"qlab"},"mark":{"type":"text","fontSize":15},"encoding":{"text":{"field":"q"},"color":{"value":"#222"}}},{"data":{"name":"gx"},"mark":{"type":"rule","color":"#4a5a60","strokeWidth":2},"encoding":{"y":null,"color":null}},{"data":{"name":"gy"},"mark":{"type":"rule","color":"#4a5a60","strokeWidth":2},"encoding":{"x":null,"color":null}}]}]}
 ]},
 {"width":251,"height":1,"mark":{"type":"point","opacity":0},"data":{"values":[{}]},"encoding":{}},
 {"bounds":"flush","spacing":0,"resolve":{"scale":{"color":"independent","size":"independent"}},"vconcat":[
  {"width":240,"height":26,"data":{"name":"titles"},"transform":[{"filter":"datum.p==3"}],"encoding":{"x":{"field":"x","type":"quantitative","scale":{"domain":[0,1]},"axis":null},"y":{"field":"y","type":"quantitative","scale":{"domain":[0,1]},"axis":null},"text":{"field":"t"}},"layer":[{"transform":[{"filter":"!datum.bold"}],"mark":{"type":"text","align":"left","fontSize":21.5,"color":"#222"}},{"transform":[{"filter":"datum.bold"}],"mark":{"type":"text","align":"left","fontSize":21.5,"color":"#222","fontWeight":"bold"}}]},
  {"width":183,"height":170,"view":{"stroke":"#222","strokeWidth":1.5},"layer":[{"encoding":{"x":{"field":"x","type":"quantitative","scale":{"type":"log","nice":false,"domain":[26.5,268000]},"axis":{"title":null,"tickCount":40,"labelPadding":6,"tickSize":{"condition":{"test":"indexof([100,1000,10000,100000],datum.value)>=0","value":8},"value":4},"labelExpr":"{100:'10²',1000:'10³',10000:'10⁴',100000:'10⁵'}[datum.value]||''"}},"y":{"field":"y","type":"quantitative","scale":{"type":"log","nice":false,"domain":[25.1,293000]},"axis":{"title":null,"tickCount":40,"labelPadding":5,"tickSize":{"condition":{"test":"indexof([100,1000,10000,100000],datum.value)>=0","value":8},"value":4},"labelExpr":"{100:'10²',1000:'10³',10000:'10⁴',100000:'10⁵'}[datum.value]||''"}},"color":{"field":"q","type":"nominal","legend":null}},"layer":[{"data":{"name":"sparse"},"mark":{"type":"circle","size":6,"opacity":0.55}},{"data":{"name":"core"},"transform":[{"filter":"datum.p==3&&datum.q=='Q3'"}],"mark":{"type":"circle","size":800,"opacity":0.22}},{"data":{"name":"core"},"transform":[{"filter":"datum.p==3"}],"mark":{"type":"circle","opacity":1},"encoding":{"size":{"field":"q","type":"nominal","legend":null,"scale":{"type":"ordinal","range":[110,170,400,90]}}}},{"data":{"name":"qlab"},"mark":{"type":"text","stroke":"#fff","strokeWidth":2.5,"fontSize":15},"encoding":{"text":{"field":"q"},"color":{"value":"#fff"}}},{"data":{"name":"qlab"},"mark":{"type":"text","fontSize":15},"encoding":{"text":{"field":"q"},"color":{"value":"#222"}}},{"data":{"name":"gx"},"mark":{"type":"rule","color":"#4a5a60","strokeWidth":2},"encoding":{"y":null,"color":null}},{"data":{"name":"gy"},"mark":{"type":"rule","color":"#4a5a60","strokeWidth":2},"encoding":{"x":null,"color":null}}]}]},
  {"width":240,"height":71,"data":{"name":"titles"},"transform":[{"filter":"datum.p==6"}],"encoding":{"x":{"field":"x","type":"quantitative","scale":{"domain":[0,1]},"axis":null},"y":{"field":"y","type":"quantitative","scale":{"domain":[0,1]},"axis":null},"text":{"field":"t"}},"layer":[{"transform":[{"filter":"!datum.bold"}],"mark":{"type":"text","align":"left","fontSize":21.5,"color":"#222"}},{"transform":[{"filter":"datum.bold"}],"mark":{"type":"text","align":"left","fontSize":21.5,"color":"#222","fontWeight":"bold"}}]},
  {"width":184,"height":171,"view":{"stroke":"#222","strokeWidth":1.5},"layer":[{"encoding":{"x":{"field":"x","type":"quantitative","scale":{"type":"log","nice":false,"domain":[26.5,282000]},"axis":{"title":null,"tickCount":40,"labelPadding":6,"tickSize":{"condition":{"test":"indexof([100,1000,10000,100000],datum.value)>=0","value":8},"value":4},"labelExpr":"{100:'10²',1000:'10³',10000:'10⁴',100000:'10⁵'}[datum.value]||''"}},"y":{"field":"y","type":"quantitative","scale":{"type":"log","nice":false,"domain":[23.8,293000]},"axis":{"title":null,"tickCount":40,"labelPadding":5,"tickSize":{"condition":{"test":"indexof([100,1000,10000,100000],datum.value)>=0","value":8},"value":4},"labelExpr":"{100:'10²',1000:'10³',10000:'10⁴',100000:'10⁵'}[datum.value]||''"}},"color":{"field":"q","type":"nominal","legend":null}},"layer":[{"data":{"name":"sparse"},"mark":{"type":"circle","size":6,"opacity":0.55}},{"data":{"name":"core"},"transform":[{"filter":"datum.p==6&&datum.q=='Q3'"}],"mark":{"type":"circle","size":800,"opacity":0.22}},{"data":{"name":"core"},"transform":[{"filter":"datum.p==6"}],"mark":{"type":"circle","opacity":1},"encoding":{"size":{"field":"q","type":"nominal","legend":null,"scale":{"type":"ordinal","range":[110,170,400,90]}}}},{"data":{"name":"qlab"},"mark":{"type":"text","stroke":"#fff","strokeWidth":2.5,"fontSize":15},"encoding":{"text":{"field":"q"},"color":{"value":"#fff"}}},{"data":{"name":"qlab"},"mark":{"type":"text","fontSize":15},"encoding":{"text":{"field":"q"},"color":{"value":"#222"}}},{"data":{"name":"gx"},"mark":{"type":"rule","color":"#4a5a60","strokeWidth":2},"encoding":{"y":null,"color":null}},{"data":{"name":"gy"},"mark":{"type":"rule","color":"#4a5a60","strokeWidth":2},"encoding":{"x":null,"color":null}}]}]},
  {"width":240,"height":75,"data":{"name":"titles"},"transform":[{"filter":"datum.p==9"}],"encoding":{"x":{"field":"x","type":"quantitative","scale":{"domain":[0,1]},"axis":null},"y":{"field":"y","type":"quantitative","scale":{"domain":[0,1]},"axis":null},"text":{"field":"t"}},"layer":[{"transform":[{"filter":"!datum.bold"}],"mark":{"type":"text","align":"left","fontSize":21.5,"color":"#222"}},{"transform":[{"filter":"datum.bold"}],"mark":{"type":"text","align":"left","fontSize":21.5,"color":"#222","fontWeight":"bold"}}]},
  {"width":182,"height":167,"view":{"stroke":"#222","strokeWidth":1.5},"layer":[{"encoding":{"x":{"field":"x","type":"quantitative","scale":{"type":"log","nice":false,"domain":[27.9,268000]},"axis":{"title":null,"tickCount":40,"labelPadding":6,"tickSize":{"condition":{"test":"indexof([100,1000,10000,100000],datum.value)>=0","value":8},"value":4},"labelExpr":"{100:'10²',1000:'10³',10000:'10⁴',100000:'10⁵'}[datum.value]||''"}},"y":{"field":"y","type":"quantitative","scale":{"type":"log","nice":false,"domain":[29.6,293000]},"axis":{"title":null,"tickCount":40,"labelPadding":5,"tickSize":{"condition":{"test":"indexof([100,1000,10000,100000],datum.value)>=0","value":8},"value":4},"labelExpr":"{100:'10²',1000:'10³',10000:'10⁴',100000:'10⁵'}[datum.value]||''"}},"color":{"field":"q","type":"nominal","legend":null}},"layer":[{"data":{"name":"sparse"},"mark":{"type":"circle","size":6,"opacity":0.55}},{"data":{"name":"core"},"transform":[{"filter":"datum.p==9&&datum.q=='Q3'"}],"mark":{"type":"circle","size":800,"opacity":0.22}},{"data":{"name":"core"},"transform":[{"filter":"datum.p==9"}],"mark":{"type":"circle","opacity":1},"encoding":{"size":{"field":"q","type":"nominal","legend":null,"scale":{"type":"ordinal","range":[110,170,400,90]}}}},{"data":{"name":"qlab"},"mark":{"type":"text","stroke":"#fff","strokeWidth":2.5,"fontSize":15},"encoding":{"text":{"field":"q"},"color":{"value":"#fff"}}},{"data":{"name":"qlab"},"mark":{"type":"text","fontSize":15},"encoding":{"text":{"field":"q"},"color":{"value":"#222"}}},{"data":{"name":"gx"},"mark":{"type":"rule","color":"#4a5a60","strokeWidth":2},"encoding":{"y":null,"color":null}},{"data":{"name":"gy"},"mark":{"type":"rule","color":"#4a5a60","strokeWidth":2},"encoding":{"x":null,"color":null}}]}]}
 ]}
]},
{"width":10,"height":732,"mark":{"type":"point","opacity":0},"data":{"values":[{}]},"encoding":{}},
{"width":751,"height":91,"layer":[
  {"data":{"values":[{"x":0.0067,"y":1},{"x":0.99,"y":1}]},"mark":{"type":"line","color":"#222","strokeWidth":1.5},"encoding":{"x":{"field":"x","type":"quantitative","scale":{"domain":[0,1]},"axis":{"title":"Annexin","titleFontSize":27,"labels":false,"ticks":false,"titleY":-71,"titleX":388,"titleBaseline":"middle"}},"y":{"field":"y","type":"quantitative","scale":{"domain":[0,1]},"axis":null}}},
  {"data":{"values":[{"x":0.9907,"y":1}]},"mark":{"type":"point","filled":true,"opacity":1,"color":"#222","size":196,"shape":"M1,0L-1,-0.55L-0.5,0L-1,0.55Z"},"encoding":{"x":{"field":"x","type":"quantitative"},"y":{"field":"y","type":"quantitative"}}}
]},
{"width":855,"height":523.7,"title":{"text":"(b)","anchor":"start","frame":"group","fontSize":21,"fontWeight":"normal","color":"#222","dx":-46,"dy":59},
 "layer":[
 {"encoding":{"x":{"field":"g","type":"nominal","sort":null,"scale":{"domain":["Control","OL5","OL20","Tpc2","Tpc2 OL a","Tpc2 OL b","Tpc5","Tpc5 OL5","Tpc5 OL20"],"paddingInner":0,"paddingOuter":0},"axis":{"title":null,"labels":false,"ticks":false,"domain":true,"domainColor":"#222","domainWidth":1.5}},"xOffset":{"field":"s","type":"nominal","sort":null,"scale":{"domain":["Necrosis","Late apoptosis","Living cells","Early apoptosis"],"paddingInner":0.184,"paddingOuter":0.592}}},
 "layer":[
  {"data":{"name":"bars"},"mark":{"type":"bar","stroke":"#333","strokeWidth":1.5},"encoding":{"y":{"field":"v","type":"quantitative","scale":{"domain":[0,90.2],"nice":false},"axis":{"title":"Proportional of cells MCF-7, %","titleFontSize":27,"titleY":276,"titlePadding":19,"values":[0,20,40,60,80],"tickSize":-9,"labelPadding":21,"domain":true,"domainColor":"#222","domainWidth":1.5,"tickColor":"#222","tickWidth":1.2}},"color":{"field":"s","type":"nominal","scale":{"domain":["Necrosis","Late apoptosis","Living cells","Early apoptosis"],"range":["#dfa3e6","#ffd400","#1fc093","#7ecbe8"]},"legend":{"orient":"none","legendX":-11,"legendY":-56,"columns":4,"title":null,"symbolType":"M-1,-0.47H1V0.47H-1Z","symbolSize":3025,"symbolStrokeColor":"#333","symbolStrokeWidth":1.5,"labelFontSize":26.5,"labelColor":"#222","labelOffset":12,"labelLimit":300,"columnPadding":14}}}},
  {"data":{"name":"bars"},"mark":{"type":"rule","color":"#222","strokeWidth":1.3},"encoding":{"y":{"field":"lo","type":"quantitative"},"y2":{"field":"hi"}}},
  {"data":{"name":"bars"},"mark":{"type":"tick","color":"#222","size":10,"thickness":1.3,"orient":"horizontal"},"encoding":{"y":{"field":"lo","type":"quantitative"}}},
  {"data":{"name":"bars"},"mark":{"type":"tick","color":"#222","size":10,"thickness":1.3,"orient":"horizontal"},"encoding":{"y":{"field":"hi","type":"quantitative"}}},
  {"data":{"name":"brk"},"mark":{"type":"line","color":"#333","strokeWidth":1.3},"encoding":{"y":{"field":"y","type":"quantitative"},"detail":{"field":"b"},"order":{"field":"o"}}},
  {"data":{"values":[{"g":"Tpc2 OL a","s":"Late apoptosis","y":82.2,"t":"p < 0.05"}]},"mark":{"type":"text","fontSize":27,"color":"#222","dx":5},"encoding":{"y":{"field":"y","type":"quantitative"},"text":{"field":"t"}}},
  {"data":{"values":[{"g":"Tpc2","s":"Early apoptosis","y":75.3,"t":"p < 0.05"}]},"mark":{"type":"text","fontSize":27,"color":"#222","dx":10},"encoding":{"y":{"field":"y","type":"quantitative"},"text":{"field":"t"}}},
  {"data":{"values":[{"g":"Tpc5 OL5","s":"Late apoptosis","y":82,"t":"p < 0.05"}]},"mark":{"type":"text","fontSize":27,"color":"#222"},"encoding":{"y":{"field":"y","type":"quantitative"},"text":{"field":"t"}}},
  {"data":{"values":[{"g":"Tpc5","s":"Early apoptosis","y":70,"t":"p < 0.05"}]},"mark":{"type":"text","fontSize":27,"color":"#222","dx":17},"encoding":{"y":{"field":"y","type":"quantitative"},"text":{"field":"t"}}}
 ]},
 {"data":{"name":"glabels"},"encoding":{"x":{"field":"g","type":"nominal","sort":null},"y":{"field":"y","type":"quantitative"},"text":{"field":"t"}},"layer":[{"transform":[{"filter":"!datum.bold"}],"mark":{"type":"text","fontSize":21,"color":"#222"}},{"transform":[{"filter":"datum.bold"}],"mark":{"type":"text","fontSize":21,"color":"#222","fontWeight":"bold"}}]}
 ]}
]}
